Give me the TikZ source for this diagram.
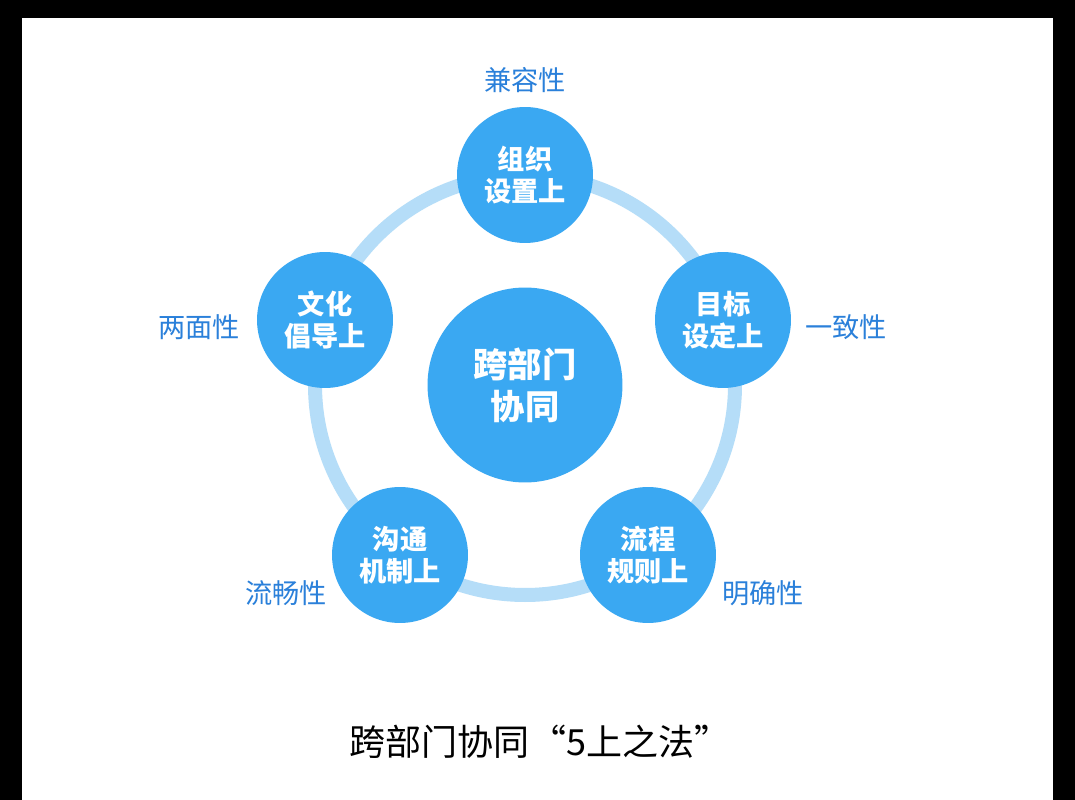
\documentclass[tikz,border=0pt]{standalone}
\usepackage{fontspec}
\setmainfont{Noto Sans CJK SC}
\usepackage{tikz}
\usetikzlibrary{calc}
\definecolor{ballblue}{HTML}{3AA8F2}
\definecolor{ringblue}{HTML}{B5DDF8}
\definecolor{labelblue}{HTML}{2A80DA}

\begin{document}
\begin{tikzpicture}[x=0.02cm, y=-0.02cm]
	\tikzstyle{ball} =[circle, fill=ballblue, text=white, font=\bfseries\fontsize{15.5}{18.5}\selectfont, align=center, inner sep=0, minimum size=2.72cm]
	\tikzstyle{quality} =[text=labelblue, font=\fontsize{15.5}{18}\selectfont, inner sep=0]
	\fill[black] (0,0) rectangle (1075,800);
	\fill[white] (22,18) rectangle (1053,800);
	\useasboundingbox (0,0) rectangle (1075,800);
	\coordinate (O) at (525,385);
	\draw[ringblue, line width=0.28cm] (O) circle (210*0.02cm);
	\node[ball, minimum size=3.9cm, font=\bfseries\fontsize{19.5}{24}\selectfont] (hub) at (O) {跨部门\\协同};
	\foreach \n/\x/\y/\t in {org/525/175/{组织\\设置上}, goal/723/320/{目标\\设定上}, flow/648/555/{流程\\规则上}, comm/400/555/{沟通\\机制上}, cult/325/320/{文化\\倡导上}}
		{\node[ball] (\n) at (\x,\y) {\t}; }
	\node[quality] (q1) at (525,80) {兼容性};
	\node[quality] (q2) at (846,327) {一致性};
	\node[quality] (q3) at (763,593) {明确性};
	\node[quality] (q4) at (286,593) {流畅性};
	\node[quality] (q5) at (199,327) {两面性};
	\node[font=\fontsize{20.5}{24}\selectfont] (title) at (540,742) {跨部门协同“5上之法”};
\end{tikzpicture}
\end{document}
